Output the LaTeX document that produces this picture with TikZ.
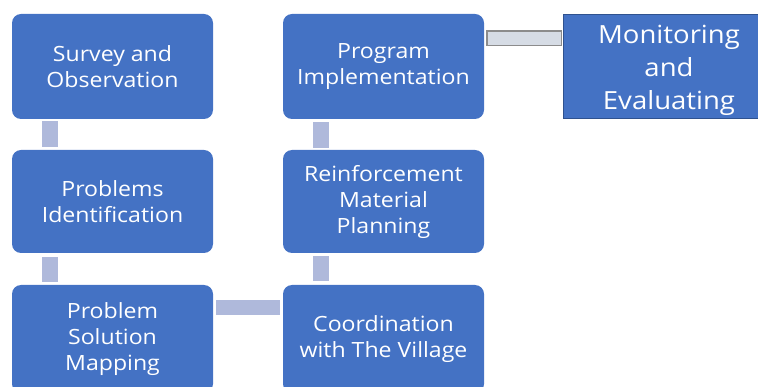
\documentclass[tikz,border=0pt]{standalone}
\usepackage{fontspec}
\setmainfont[FakeStretch=1.1]{Open Sans}
\definecolor{boxblue}{HTML}{4472C4}
\definecolor{boxedge}{HTML}{2F528F}
\definecolor{barblue}{HTML}{AFB9DB}
\definecolor{barlight}{HTML}{D6DCE5}
\definecolor{bargray}{HTML}{8C8C8C}
\begin{document}
\begin{tikzpicture}[x=1pt,y=-1pt,
  stepbox/.style={fill=boxblue, draw=none, rounded corners=9pt, minimum width=201pt,
    text=white, align=center, inner sep=0pt,
    font=\fontsize{21}{26}\selectfont},
  endbox/.style={fill=boxblue, draw=boxedge, line width=1pt, minimum width=212pt, minimum height=104pt,
    inner sep=0pt},
  endtext/.style={text=white, align=center, font=\fontsize{25}{33}\selectfont},
  bar/.style={draw=barblue, line width=16pt}]
\useasboundingbox (0,0) rectangle (758,387);
\clip (0,0) rectangle (758,387);
\node[stepbox, minimum height=105pt] (b1) at (112.5,66.5) {Survey and\\Observation};
\node[stepbox, minimum height=103pt] (b2) at (112.5,201.5) {Problems\\Identification};
\node[stepbox, minimum height=108pt] (b3) at (112.5,339) {Problem\\Solution\\Mapping};
\node[stepbox, minimum height=108pt] (b4) at (383.5,339) {Coordination\\with The Village};
\node[stepbox, minimum height=103pt] (b5) at (383.5,201.5) {Reinforcement\\Material\\Planning};
\node[stepbox, minimum height=105pt] (b6) at (383.5,66.5) {Program\\Implementation};
\node[endbox, label={[endtext, yshift=-4pt]center:Monitoring\\and\\Evaluating}] (b7) at (669,66.5) {};
\draw[bar, shorten <=2pt, shorten >=3pt] ([xshift=-63pt]b1.south) -- ([xshift=-63pt]b2.north);
\draw[bar, shorten <=4pt, shorten >=3pt] ([xshift=-63pt]b2.south) -- ([xshift=-63pt]b3.north);
\draw[bar, shorten <=4pt, shorten >=3pt] ([xshift=-63pt]b4.north) -- ([xshift=-63pt]b5.south);
\draw[bar, shorten <=2pt, shorten >=3pt] ([xshift=-63pt]b5.north) -- ([xshift=-63pt]b6.south);
\draw[bar, line width=15pt, shorten <=3pt, shorten >=3pt] ([yshift=31.5pt]b3.east) -- ([yshift=31.5pt]b4.west);
\draw[draw=bargray, line width=16pt] ([yshift=28pt,xshift=2pt]b6.east) -- ([yshift=28pt,xshift=-1pt]b7.west);
\draw[draw=barlight, line width=13pt] ([yshift=28pt,xshift=3.5pt]b6.east) -- ([yshift=28pt,xshift=-2pt]b7.west);
\end{tikzpicture}
\end{document}
